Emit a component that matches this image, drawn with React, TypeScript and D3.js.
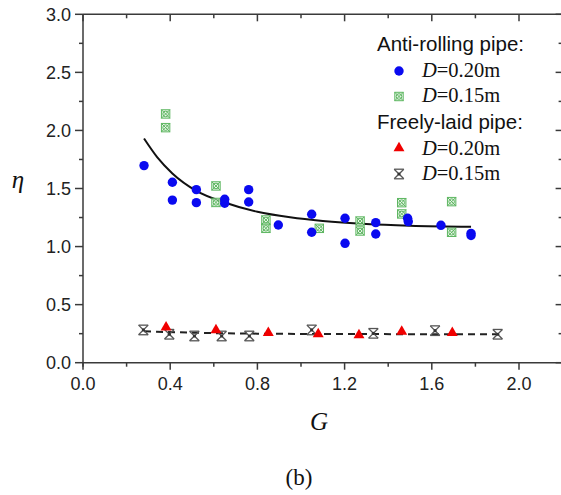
import React from "react";
import * as d3 from "d3";

const W = 561;
const H = 495;

// Anti-rolling pipe, D=0.20m (blue circles)
const antiG20 = [0.28, 0.41, 0.41, 0.52, 0.52, 0.65, 0.65, 0.76, 0.76, 0.896, 1.049, 1.049, 1.202, 1.202, 1.343, 1.343, 1.489, 1.492, 1.642, 1.78, 1.78];
const antiE20 = [1.697, 1.554, 1.40, 1.49, 1.378, 1.407, 1.373, 1.49, 1.384, 1.186, 1.278, 1.123, 1.244, 1.028, 1.206, 1.108, 1.244, 1.215, 1.183, 1.114, 1.095];
// Anti-rolling pipe, D=0.15m (green hatched squares)
const antiG15 = [0.379, 0.379, 0.61, 0.61, 0.839, 0.839, 1.084, 1.271, 1.271, 1.462, 1.462, 1.691, 1.691];
const antiE15 = [2.142, 2.024, 1.522, 1.38, 1.229, 1.157, 1.157, 1.22, 1.134, 1.378, 1.281, 1.387, 1.123];
// Freely-laid pipe, D=0.20m (red triangles)
const freeG20 = [0.381, 0.61, 0.85, 1.079, 1.266, 1.462, 1.694];
const freeE20 = [0.305, 0.28, 0.258, 0.247, 0.238, 0.267, 0.258];
// Freely-laid pipe, D=0.15m (grey crosses)
const freeG15 = [0.277, 0.396, 0.511, 0.636, 0.763, 1.049, 1.332, 1.615, 1.902];
const freeE15 = [0.282, 0.245, 0.23, 0.23, 0.23, 0.282, 0.253, 0.276, 0.245];
// Fitted curve for anti-rolling pipe (solid)
const fitG = [0.28, 0.34, 0.41, 0.52, 0.65, 0.8, 0.95, 1.1, 1.3, 1.5, 1.78];
const fitE = [1.93, 1.77, 1.63, 1.48, 1.38, 1.30, 1.252, 1.22, 1.194, 1.18, 1.171];
// Fitted line for freely-laid pipe (dashed)
const dashG = [0.28, 0.6, 1.0, 1.9];
const dashE = [0.27, 0.255, 0.248, 0.245];

const xMajor = [0, 0.4, 0.8, 1.2, 1.6, 2.0];
const xMinor = [0.2, 0.6, 1.0, 1.4, 1.8];
const yMajor = [0, 0.5, 1.0, 1.5, 2.0, 2.5, 3.0];
const yMinor = [0.25, 0.75, 1.25, 1.75, 2.25, 2.75];

const x = d3.scaleLinear().domain([0, 2.2]).range([83, 562.6]);
const y = d3.scaleLinear().domain([0, 3]).range([362.7, 14.3]);

const AX = "#3a3a3a";
const BLUE = "#0a0af0";
const GREEN = "#4caf50";
const RED = "#f00000";
const GREY = "#555";

function Circle({ cx, cy }: { cx: number; cy: number }) {
  return <circle cx={cx} cy={cy} r={4.7} fill={BLUE} />;
}
function Hatch({ cx, cy }: { cx: number; cy: number }) {
  const s = 4.2;
  return (
    <g stroke={GREEN} strokeWidth={1} fill="none" opacity={0.9}>
      <rect x={cx - s} y={cy - s} width={2 * s} height={2 * s} fill="#e8f5e8" />
      <circle cx={cx} cy={cy} r={2.8} />
      <line x1={cx - s} y1={cy - s} x2={cx + s} y2={cy + s} />
      <line x1={cx - s} y1={cy + s} x2={cx + s} y2={cy - s} />
    </g>
  );
}
function Tri({ cx, cy }: { cx: number; cy: number }) {
  const p = d3.symbol(d3.symbolTriangle, 52)();
  return <path d={p || ""} transform={`translate(${cx},${cy})`} fill={RED} />;
}
function Cross({ cx, cy }: { cx: number; cy: number }) {
  const s = 4.8;
  return (
    <g stroke={GREY} strokeWidth={1.3} fill="none">
      <line x1={cx - s} y1={cy - s} x2={cx + s} y2={cy + s} />
      <line x1={cx - s} y1={cy + s} x2={cx + s} y2={cy - s} />
      <line x1={cx - s} y1={cy - s} x2={cx + s} y2={cy - s} />
      <line x1={cx - s} y1={cy + s} x2={cx + s} y2={cy + s} />
      <circle cx={cx} cy={cy} r={1.6} fill="#333" stroke="none" />
    </g>
  );
}

export default function App() {
  const line = d3
    .line<number>()
    .x((_, i) => x(fitG[i]))
    .y((d) => y(d))
    .curve(d3.curveMonotoneX);
  const dline = d3
    .line<number>()
    .x((_, i) => x(dashG[i]))
    .y((d) => y(d))
    .curve(d3.curveMonotoneX);

  const x0 = x(0);
  const x1 = x(2.2);
  const y0 = y(0);
  const y1 = y(3);

  const legendX = 399;
  const textX = 422;
  const lf = "'Liberation Sans', Arial, sans-serif";
  const sf = "'Liberation Serif', 'Times New Roman', serif";
  const fs = 20.5;

  return (
    <svg
      width={W}
      height={H}
      style={{ position: "absolute", left: 0, top: 0, background: "#fff" }}
    >
      {/* axes frame */}
      <g stroke={AX} strokeWidth={1.5}>
        <line x1={x0} y1={y1} x2={x0} y2={y0 + 4} />
        <line x1={x0} y1={y0} x2={x1} y2={y0} />
        <line x1={x0} y1={y1} x2={x1} y2={y1} />
        <line x1={x1} y1={y1} x2={x1} y2={y0} />
        {xMajor.map((v) => (
          <g key={"xm" + v}>
            <line x1={x(v)} x2={x(v)} y1={y0} y2={y0 + 7} />
            <line x1={x(v)} x2={x(v)} y1={y1} y2={y1 + 7} />
          </g>
        ))}
        {xMinor.map((v) => (
          <g key={"xn" + v}>
            <line x1={x(v)} x2={x(v)} y1={y0} y2={y0 + 4} />
            <line x1={x(v)} x2={x(v)} y1={y1} y2={y1 + 4} />
          </g>
        ))}
        {yMajor.map((v) => (
          <g key={"ym" + v}>
            <line x1={x0 - 8} x2={x0} y1={y(v)} y2={y(v)} />
            <line x1={x1 - 7} x2={x1} y1={y(v)} y2={y(v)} />
          </g>
        ))}
        {yMinor.map((v) => (
          <g key={"yn" + v}>
            <line x1={x0 - 4} x2={x0} y1={y(v)} y2={y(v)} />
            <line x1={x1 - 4} x2={x1} y1={y(v)} y2={y(v)} />
          </g>
        ))}
      </g>
      {/* tick labels */}
      <g fontFamily={lf} fontSize={18} fill="#222">
        {xMajor.map((v) => (
          <text key={"xl" + v} x={x(v)} y={390} textAnchor="middle">
            {v.toFixed(1)}
          </text>
        ))}
        {yMajor.map((v) => (
          <text key={"yl" + v} x={71} y={y(v) + 6.5} textAnchor="end">
            {v.toFixed(1)}
          </text>
        ))}
      </g>
      {/* axis titles */}
      <text x={18} y={188} fontFamily={sf} fontStyle="italic" fontSize={25} textAnchor="middle" fill="#111">
        η
      </text>
      <text x={319} y={430} fontFamily={sf} fontStyle="italic" fontSize={25} textAnchor="middle" fill="#111">
        G
      </text>
      <text x={299} y={485} fontFamily={sf} fontSize={23} textAnchor="middle" fill="#111">
        (b)
      </text>

      {/* fit lines */}
      <path d={line(fitE) || ""} fill="none" stroke="#111" strokeWidth={2} />
      <path d={dline(dashE) || ""} fill="none" stroke="#222" strokeWidth={2} strokeDasharray="7,5" />

      {/* data */}
      {antiG15.map((g, i) => (
        <Hatch key={"a15" + i} cx={x(g)} cy={y(antiE15[i])} />
      ))}
      {antiG20.map((g, i) => (
        <Circle key={"a20" + i} cx={x(g)} cy={y(antiE20[i])} />
      ))}
      {freeG15.map((g, i) => (
        <Cross key={"f15" + i} cx={x(g)} cy={y(freeE15[i])} />
      ))}
      {freeG20.map((g, i) => (
        <Tri key={"f20" + i} cx={x(g)} cy={y(freeE20[i])} />
      ))}

      {/* legend */}
      <g fill="#111">
        <text x={377} y={51} fontFamily={lf} fontSize={fs}>
          Anti-rolling pipe:
        </text>
        <Circle cx={legendX} cy={71} />
        <text x={textX} y={77} fontFamily={sf} fontSize={fs}>
          <tspan fontStyle="italic">D</tspan>=0.20m
        </text>
        <Hatch cx={legendX} cy={96.5} />
        <text x={textX} y={102} fontFamily={sf} fontSize={fs}>
          <tspan fontStyle="italic">D</tspan>=0.15m
        </text>
        <text x={377} y={129} fontFamily={lf} fontSize={fs}>
          Freely-laid pipe:
        </text>
        <Tri cx={legendX} cy={148} />
        <text x={textX} y={155} fontFamily={sf} fontSize={fs}>
          <tspan fontStyle="italic">D</tspan>=0.20m
        </text>
        <Cross cx={legendX} cy={174} />
        <text x={textX} y={180} fontFamily={sf} fontSize={fs}>
          <tspan fontStyle="italic">D</tspan>=0.15m
        </text>
      </g>
    </svg>
  );
}
